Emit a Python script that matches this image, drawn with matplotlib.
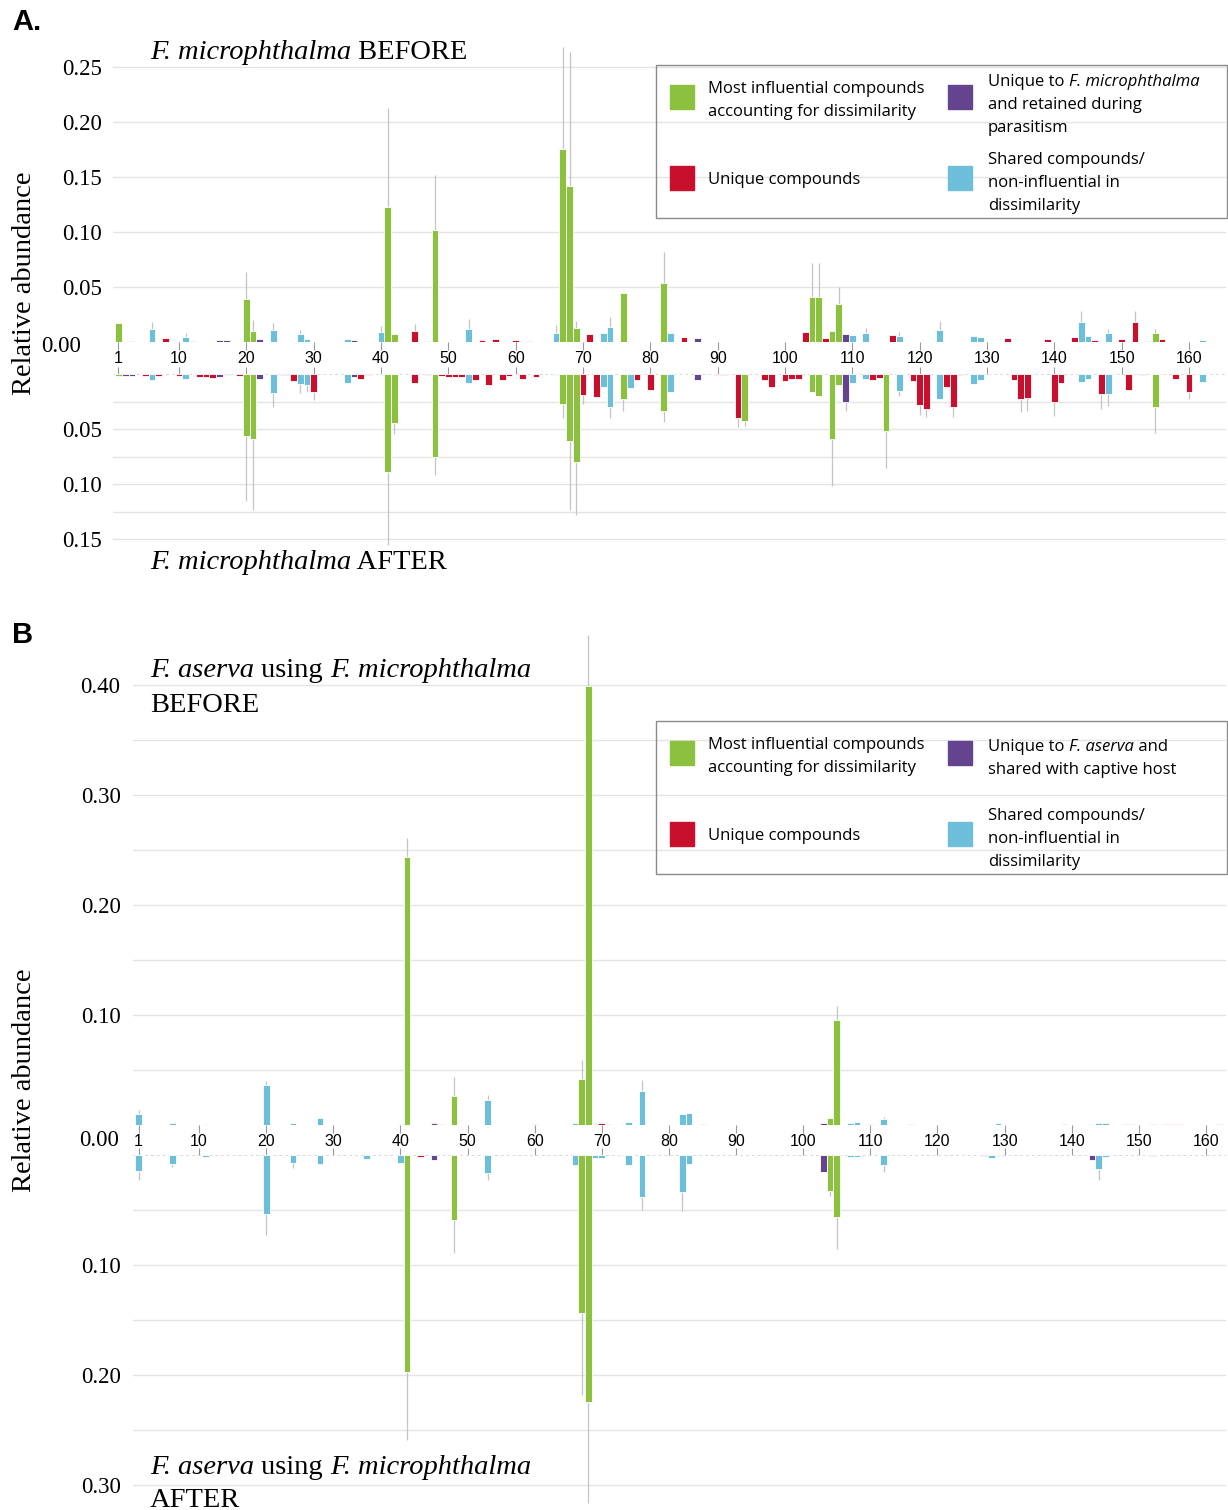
import matplotlib.pyplot as plt
from matplotlib.patches import Rectangle

W, H = 1228, 1510
SERIF = "Liberation Serif"
SANS = "Liberation Sans"
LEG = "Open Sans"

colors = {"g": "#8cc13f", "r": "#c8102e", "p": "#65448f", "b": "#6dbfd9"}

# panel A, F. microphthalma before parasitism (compound, category, relative abundance)
a_before = [
    (1, "g", 0.017), (3, "p", 0.001), (6, "b", 0.0115), (8, "r", 0.0034), (11, "b", 0.005),
    (12, "r", 0.001), (16, "p", 0.0015), (17, "p", 0.0015), (20, "g", 0.039), (21, "g", 0.0103),
    (22, "p", 0.0025), (24, "b", 0.011), (28, "b", 0.0073), (29, "b", 0.003), (35, "b", 0.0027),
    (36, "p", 0.0015), (40, "b", 0.0094), (41, "g", 0.1225), (42, "g", 0.0076), (45, "r", 0.010),
    (47, "r", 0.001), (48, "g", 0.1015), (53, "b", 0.0118), (55, "r", 0.002), (57, "r", 0.003),
    (60, "r", 0.002), (62, "r", 0.001), (66, "b", 0.0085), (67, "g", 0.1755), (68, "g", 0.1415),
    (69, "g", 0.0124), (71, "r", 0.007), (73, "b", 0.0085), (74, "b", 0.014), (75, "b", 0.001),
    (76, "g", 0.045), (77, "b", 0.001), (82, "g", 0.0535), (83, "b", 0.008), (84, "b", 0.001),
    (85, "r", 0.0043), (87, "p", 0.0034), (103, "r", 0.0088), (104, "g", 0.0406), (105, "g", 0.0406),
    (106, "r", 0.0034), (107, "g", 0.010), (108, "g", 0.035), (109, "p", 0.007), (110, "b", 0.006),
    (112, "b", 0.0085), (116, "r", 0.006), (117, "b", 0.0055), (123, "b", 0.011), (128, "b", 0.0055),
    (129, "b", 0.0045), (133, "r", 0.0036), (139, "r", 0.003), (143, "r", 0.0045), (144, "b", 0.018),
    (145, "b", 0.0055), (146, "r", 0.002), (148, "b", 0.008), (150, "r", 0.003), (152, "r", 0.018),
    (154, "r", 0.001), (155, "g", 0.008), (156, "r", 0.0025), (162, "b", 0.002),
]
a_before_err = {6: 0.007, 11: 0.0035, 20: 0.025, 21: 0.010, 24: 0.0065, 28: 0.004, 40: 0.0054,
                41: 0.09, 45: 0.0064, 48: 0.05, 53: 0.009, 66: 0.007, 67: 0.0925, 68: 0.1225,
                69: 0.007, 74: 0.009, 82: 0.0285, 104: 0.031, 105: 0.031, 108: 0.015, 112: 0.0045,
                117: 0.004, 123: 0.0085, 144: 0.0105, 148: 0.004, 152: 0.0105, 155: 0.004}

# panel A, F. microphthalma after parasitism
a_after = [
    (1, "g", 0.002), (2, "p", 0.0015), (3, "p", 0.0015), (5, "r", 0.0015), (6, "b", 0.0055),
    (7, "r", 0.002), (10, "r", 0.0015), (11, "b", 0.0045), (13, "r", 0.003), (14, "r", 0.003),
    (15, "r", 0.0036), (16, "p", 0.003), (17, "r", 0.001), (19, "r", 0.0015), (20, "g", 0.056),
    (21, "g", 0.059), (22, "p", 0.0045), (24, "b", 0.0176), (25, "r", 0.001), (26, "r", 0.001),
    (27, "r", 0.0067), (28, "b", 0.009), (29, "b", 0.010), (30, "r", 0.016), (35, "b", 0.008),
    (36, "p", 0.003), (37, "r", 0.0045), (38, "r", 0.001), (40, "b", 0.0012), (41, "g", 0.089),
    (42, "g", 0.0445), (45, "r", 0.0085), (47, "r", 0.001), (48, "g", 0.075), (49, "r", 0.0015),
    (50, "r", 0.0025), (51, "r", 0.0025), (52, "r", 0.0025), (53, "b", 0.008), (54, "r", 0.0055),
    (56, "r", 0.010), (58, "r", 0.0055), (59, "r", 0.0015), (61, "r", 0.0045), (63, "r", 0.003),
    (66, "b", 0.0012), (67, "g", 0.027), (68, "g", 0.061), (69, "g", 0.080), (70, "r", 0.019),
    (72, "r", 0.0206), (73, "b", 0.0115), (74, "b", 0.0297), (76, "g", 0.023), (77, "b", 0.013),
    (78, "r", 0.0055), (80, "r", 0.0145), (82, "g", 0.034), (83, "b", 0.0164), (87, "p", 0.005),
    (90, "r", 0.0013), (91, "r", 0.0013), (93, "r", 0.040), (94, "g", 0.0424), (97, "r", 0.0055),
    (98, "r", 0.0115), (100, "r", 0.0064), (101, "r", 0.0042), (102, "r", 0.0042), (104, "g", 0.0164),
    (105, "g", 0.020), (107, "g", 0.059), (108, "g", 0.010), (109, "p", 0.025), (110, "b", 0.0079),
    (112, "b", 0.0042), (113, "r", 0.005), (114, "r", 0.0036), (115, "g", 0.052), (117, "b", 0.0152),
    (119, "r", 0.006), (120, "r", 0.028), (121, "r", 0.032), (123, "b", 0.0224), (124, "r", 0.0115),
    (125, "r", 0.0297), (126, "r", 0.0012), (128, "b", 0.0094), (129, "b", 0.0055), (134, "r", 0.005),
    (135, "r", 0.0227), (136, "r", 0.022), (140, "r", 0.0255), (141, "r", 0.0079), (144, "b", 0.007),
    (145, "b", 0.0042), (147, "r", 0.018), (148, "b", 0.0185), (151, "r", 0.0145), (153, "r", 0.0012),
    (155, "g", 0.0303), (158, "r", 0.0042), (160, "r", 0.016), (162, "b", 0.007),
]
a_after_err = {20: 0.059, 21: 0.065, 24: 0.012, 28: 0.0086, 29: 0.006, 30: 0.0076, 41: 0.066,
               42: 0.01, 48: 0.017, 67: 0.013, 68: 0.063, 69: 0.048, 70: 0.008, 74: 0.010,
               76: 0.011, 82: 0.010, 93: 0.008, 94: 0.005, 107: 0.043, 109: 0.009, 115: 0.033,
               117: 0.005, 120: 0.009, 121: 0.007, 125: 0.009, 135: 0.012, 136: 0.012,
               140: 0.013, 147: 0.0135, 148: 0.011, 155: 0.023, 160: 0.0067}

# panel B, F. aserva using F. microphthalma before
b_before = [
    (1, "b", 0.0097), (6, "b", 0.0015), (11, "b", 0.001), (20, "b", 0.036), (24, "b", 0.0015),
    (28, "b", 0.0067), (40, "b", 0.001), (41, "g", 0.2436), (45, "p", 0.0015), (46, "r", 0.001),
    (48, "g", 0.0267), (53, "b", 0.0227), (60, "r", 0.0008), (66, "b", 0.0015), (67, "g", 0.0415),
    (68, "g", 0.399), (69, "b", 0.001), (70, "r", 0.0015), (71, "r", 0.001), (73, "b", 0.001),
    (74, "b", 0.0027), (76, "b", 0.031), (82, "b", 0.0097), (83, "b", 0.0112), (85, "r", 0.001),
    (103, "p", 0.002), (104, "g", 0.006), (105, "g", 0.0955), (107, "b", 0.0015), (108, "b", 0.003),
    (110, "r", 0.001), (112, "b", 0.0052), (116, "r", 0.001), (129, "b", 0.0015), (139, "r", 0.001),
    (143, "b", 0.001), (144, "b", 0.002), (145, "b", 0.002), (148, "r", 0.001), (149, "r", 0.001),
    (152, "p", 0.001), (154, "r", 0.001), (155, "r", 0.001), (156, "r", 0.001), (162, "r", 0.001),
]
b_before_err = {1: 0.004, 20: 0.004, 41: 0.0174, 48: 0.017, 53: 0.0046, 67: 0.0175,
                68: 0.046, 76: 0.010, 105: 0.0125, 112: 0.002}

# panel B, F. aserva using F. microphthalma after
b_after = [
    (1, "b", 0.0145), (6, "b", 0.0082), (11, "b", 0.002), (20, "b", 0.054), (24, "b", 0.0076),
    (28, "b", 0.0085), (35, "b", 0.0036), (40, "b", 0.007), (41, "g", 0.197), (43, "r", 0.002),
    (45, "p", 0.0045), (48, "g", 0.059), (53, "b", 0.016), (66, "b", 0.009), (67, "g", 0.144),
    (68, "g", 0.2245), (69, "b", 0.0025), (70, "b", 0.0025), (73, "b", 0.0012), (74, "b", 0.009),
    (76, "b", 0.0385), (82, "b", 0.0333), (83, "b", 0.0082), (103, "p", 0.015), (104, "g", 0.0324),
    (105, "g", 0.056), (107, "b", 0.002), (108, "b", 0.002), (112, "b", 0.009), (127, "r", 0.0012),
    (128, "b", 0.003), (129, "b", 0.001), (143, "p", 0.0045), (144, "b", 0.013), (145, "b", 0.0015),
    (152, "p", 0.0012),
]
b_after_err = {1: 0.008, 6: 0.003, 20: 0.019, 24: 0.004, 41: 0.062, 48: 0.030, 53: 0.0067,
               67: 0.074, 68: 0.0915, 76: 0.0115, 82: 0.018, 104: 0.005, 105: 0.029,
               112: 0.006, 144: 0.0097}

x_ticks = [1, 10, 20, 30, 40, 50, 60, 70, 80, 90, 100, 110, 120, 130, 140, 150, 160]

fig = plt.figure(figsize=(W / 100, H / 100), dpi=100)
renderer = fig.canvas.get_renderer()


def axes_px(x0, x1, y0, y1):
    return fig.add_axes([x0 / W, 1 - y1 / H, (x1 - x0) / W, (y1 - y0) / H])


def half(ax, rows, errs, xlim, ylim, major, minor, top_half, ypad):
    ids = [r[0] for r in rows]
    vals = [r[2] for r in rows]
    ax.bar(ids, vals, width=1.0, color=[colors[r[1]] for r in rows],
           edgecolor="white", linewidth=0.6, zorder=3)
    lookup = dict(zip(ids, vals))
    for i, e in errs.items():
        ax.vlines(i, lookup[i], lookup[i] + e, color="#c4c4c4", lw=0.9, zorder=2, clip_on=False)
    ax.axhline(0, color="#d9d9d9", lw=0.7, ls=(0, (3, 3)), zorder=1)
    ax.set_xlim(*xlim)
    ax.set_ylim(*ylim)
    for s in ax.spines.values():
        s.set_visible(False)
    ax.set_yticks(major)
    ax.set_yticklabels([f"{v:.2f}" for v in major], fontsize=16.5, family=SERIF)
    ax.set_yticks(minor, minor=True)
    ax.tick_params(axis="y", which="both", length=0, pad=ypad)
    ax.grid(axis="y", which="both", color="#e4e4e4", lw=1.0, zorder=0)
    ax.set_xticks(x_ticks)
    if top_half:
        ax.tick_params(axis="x", bottom=True, top=False, labelbottom=True, direction="out",
                       length=6, width=0.8, color="#999999", pad=0.5, labelsize=11.5)
        for t in ax.get_xticklabels():
            t.set_family(SANS)
    else:
        ax.tick_params(axis="x", bottom=False, top=True, labelbottom=False, labeltop=False,
                       direction="out", length=5, width=0.8, color="#999999")
    ax.set_axisbelow(True)


def chain(x, y, parts, size, family):
    # pieces of mixed italic / roman text laid out along one baseline (y in pixels)
    for style, txt in parts:
        t = fig.text(x / W, 1 - y / H, txt, fontsize=size, family=family, style=style,
                     va="baseline", ha="left")
        x += t.get_window_extent(renderer).width


# panel A axes
xA0, sA = 111.7, 6.733
xlimA = ((113 - xA0) / sA, (1226 - xA0) / sA)
axA1 = axes_px(113, 1226, 38, 342)
half(axA1, a_before, a_before_err, xlimA, (0, 304 / 1100),
     [0.05, 0.10, 0.15, 0.20, 0.25], [], True, 8)
axA2 = axes_px(113, 1226, 374, 548)
half(axA2, a_after, a_after_err, xlimA, (174 / 1100, 0),
     [0.05, 0.10, 0.15], [0.025, 0.075, 0.125], False, 8)

# panel B axes
xB0, sB = 131.9, 6.713
xlimB = ((133 - xB0) / sB, (1226 - xB0) / sB)
axB1 = axes_px(133, 1226, 630, 1125)
half(axB1, b_before, b_before_err, xlimB, (0, 495 / 1100),
     [0.10, 0.20, 0.30, 0.40], [0.05, 0.15, 0.25, 0.35], True, 9)
axB2 = axes_px(133, 1226, 1155, 1505)
half(axB2, b_after, b_after_err, xlimB, (350 / 1100, 0),
     [0.10, 0.20, 0.30], [0.05, 0.15, 0.25], False, 9)

# zero labels, axis titles and panel letters
fig.text(61 / W, 1 - 347 / H, "0.00", fontsize=16.5, family=SERIF, ha="center", va="center")
fig.text(99 / W, 1 - 1140 / H, "0.00", fontsize=16.5, family=SERIF, ha="center", va="center")
fig.text(25 / W, 1 - 283 / H, "Relative abundance", fontsize=20.5, family=SERIF,
         rotation=90, ha="center", va="center")
fig.text(25 / W, 1 - 1080 / H, "Relative abundance", fontsize=20.5, family=SERIF,
         rotation=90, ha="center", va="center")
fig.text(12 / W, 1 - 22 / H, "A.", fontsize=21, family=SANS, weight="bold", va="center")
fig.text(12 / W, 1 - 635 / H, "B", fontsize=21, family=SANS, weight="bold", va="center")

TS = 20.5
chain(150, 59, [("italic", "F. microphthalma"), ("normal", " BEFORE")], TS, SERIF)
chain(150, 569, [("italic", "F. microphthalma"), ("normal", " AFTER")], TS, SERIF)
chain(150, 677, [("italic", "F. aserva"), ("normal", " using "), ("italic", "F. microphthalma")],
      TS, SERIF)
chain(150, 712, [("normal", "BEFORE")], TS, SERIF)
chain(150, 1474, [("italic", "F. aserva"), ("normal", " using "), ("italic", "F. microphthalma")],
      TS, SERIF)
chain(150, 1507, [("normal", "AFTER")], TS, SERIF)


# legends
def box(x0, y0, x1, y1, **kw):
    fig.patches.append(Rectangle((x0 / W, 1 - y1 / H), (x1 - x0) / W, (y1 - y0) / H,
                                 transform=fig.transFigure, **kw))


def legend(top, purple_lines):
    box(656, top, 1227, top + 153, fill=False, edgecolor="#8a8a8a", lw=1.0, zorder=5)
    sq = 24
    box(670, top + 20, 670 + sq, top + 20 + sq, color=colors["g"])
    box(948, top + 20, 948 + sq, top + 20 + sq, color=colors["p"])
    box(670, top + 101, 670 + sq, top + 101 + sq, color=colors["r"])
    box(948, top + 101, 948 + sq, top + 101 + sq, color=colors["b"])
    fs = 12
    off = 6
    for k, line in enumerate(["Most influential compounds", "accounting for dissimilarity"]):
        chain(708, top + 22 + 23 * k + off, [("normal", line)], fs, LEG)
    chain(708, top + 113 + off, [("normal", "Unique compounds")], fs, LEG)
    for k, line in enumerate(["Shared compounds/", "non-influential in", "dissimilarity"]):
        chain(988, top + 93 + 23 * k + off, [("normal", line)], fs, LEG)
    for k, parts in enumerate(purple_lines):
        y = top + (15 if len(purple_lines) == 3 else 24) + 23 * k + off
        chain(988, y, parts, fs, LEG)


legend(65, [[("normal", "Unique to "), ("italic", "F. microphthalma")],
            [("normal", "and retained during")],
            [("normal", "parasitism")]])
legend(721, [[("normal", "Unique to "), ("italic", "F. aserva"), ("normal", " and")],
             [("normal", "shared with captive host")]])

fig.savefig("out.png", dpi=100, facecolor="white")
